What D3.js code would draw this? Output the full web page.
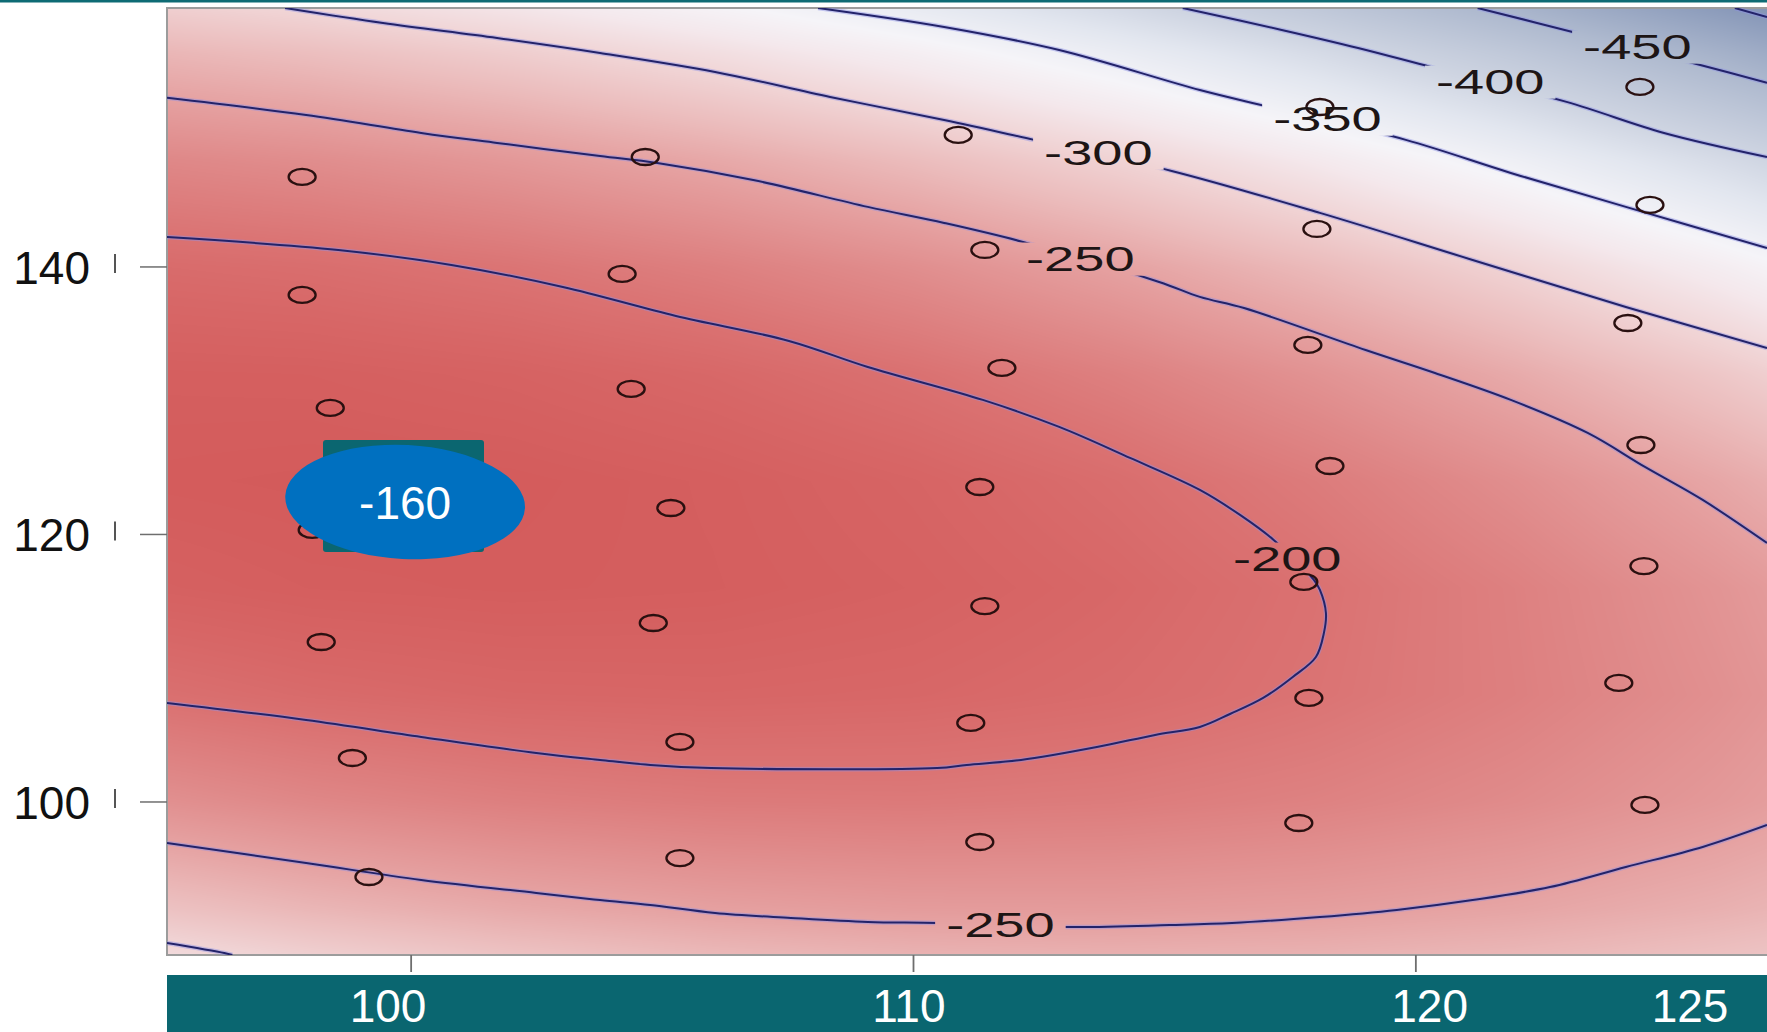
<!DOCTYPE html>
<html>
<head>
<meta charset="utf-8">
<script src="https://cdn.jsdelivr.net/npm/d3@7"></script>
<style>
  html, body { margin: 0; padding: 0; background: #ffffff; }
  svg { display: block; }
</style>
</head>
<body>
<svg id="chart" width="1767" height="1032"></svg>
<script>
// ---------------- DATA ----------------
// axis domains
const xDomain = [95.14, 126.99];
const yDomain = [88.56, 159.36];
const xTicks = [100, 110, 120];
const bandTicks = [100, 110, 120, 125];
const yTicks = [100, 120, 140];

// estimated response surface on a coarse grid (rows follow gridY, columns follow gridX)
const gridX = [94, 98, 102, 106, 110, 114, 118, 122, 126, 130];
const gridY = [84, 92, 100, 108, 116, 124, 132, 140, 148, 156, 164];
const gridZ = [
  [-349.7, -330.3, -314.8, -303.0, -295.0, -290.9, -290.4, -293.8, -300.9, -311.9],
  [-286.4, -270.5, -258.3, -250.0, -245.4, -244.6, -247.5, -254.3, -264.8, -279.2],
  [-236.8, -224.3, -215.5, -210.5, -209.3, -211.9, -218.3, -228.4, -242.3, -260.0],
  [-200.6, -191.4, -186.0, -184.4, -186.6, -192.6, -202.4, -215.9, -233.2, -254.3],
  [-177.9, -172.2, -170.2, -172.0, -177.6, -186.9, -200.1, -217.0, -237.7, -262.2],
  [-168.8, -166.4, -167.8, -173.0, -182.0, -194.8, -211.3, -231.6, -255.8, -283.6],
  [-173.1, -174.2, -179.0, -187.5, -199.9, -216.1, -236.0, -259.7, -287.2, -318.5],
  [-191.1, -195.5, -203.7, -215.7, -231.4, -251.0, -274.3, -301.4, -332.3, -367.0],
  [-222.5, -230.3, -241.8, -257.2, -276.4, -299.3, -326.0, -356.5, -390.8, -428.9],
  [-267.4, -278.6, -293.6, -312.4, -334.9, -361.2, -391.3, -425.2, -462.9, -504.4],
  [-325.9, -340.5, -358.8, -381.0, -406.9, -436.7, -470.2, -507.4, -548.5, -593.3]
];

// colour ramp of the surface
const zStops = [-165, -185, -200, -225, -250, -275, -300, -325, -345, -375, -400, -450, -500, -550];
const colorStops = ["#d35a5a", "#d76666", "#da7171", "#df8888", "#e5a0a0", "#ebbbbb", "#f0d3d4",
                    "#f4e8ec", "#f5f4f8", "#e2e6ef", "#cfd5e2", "#afbacf", "#8a9aba", "#697ea3"];

// design points
const designX = [97.83, 104.66, 110.89, 118.09, 124.46,
                 97.83, 104.20, 111.42, 118.03, 124.66,
                 98.39, 104.38, 111.76, 117.85, 124.22,
                 98.03, 105.17, 111.32, 118.29, 124.48,
                 98.21, 104.82, 111.42, 117.77, 124.54,
                 98.83, 105.35, 111.14, 117.87, 124.04,
                 99.16, 105.35, 111.32, 117.67, 124.56];
const designY = [146.73, 148.22, 149.87, 151.96, 153.46,
                 137.91, 139.48, 141.27, 142.84, 144.64,
                 129.46, 130.88, 132.45, 134.17, 135.81,
                 120.34, 121.98, 123.55, 125.12, 126.69,
                 111.96, 113.38, 114.65, 116.45, 117.64,
                 103.29, 104.49, 105.91, 107.78, 108.90,
                 94.39, 95.81, 97.01, 98.43, 99.78];

// contour lines ([x, y] in data units)
const line200 = [[95.14,142.24],[98.55,141.27],[100.80,140.15],[103.02,138.50],[105.27,136.34],[107.52,134.47],
  [109.09,132.52],[111.38,130.06],[112.90,128.04],[114.31,125.72],[115.70,123.33],[116.50,121.46],[117.17,119.59],
  [117.97,116.60],[118.09,115.85],[118.21,114.13],[118.17,112.64],[118.01,110.84],[117.55,109.35],[116.96,107.78],
  [116.30,106.58],[115.70,105.61],[114.81,105.01],[113.65,104.11],[112.14,103.14],[111.06,102.77],[110.47,102.54],
  [105.97,102.54],[104.76,102.77],[103.76,103.14],[102.49,103.66],[100.20,104.86],[97.91,106.13],[95.14,107.40]];
const line250a = [[95.14,152.65],[97.91,151.36],[100.20,150.02],[101.71,149.27],[103.76,148.30],[104.90,147.78],
  [106.81,146.50],[109.09,144.49],[110.61,143.29],[112.18,141.87],[114.89,138.88],[115.70,137.76],[116.58,136.93],
  [119.00,133.79],[120.38,132.07],[121.89,130.06],[123.42,127.59],[124.56,125.05],[125.71,122.58],[126.99,119.36]];
const line250b = [[95.14,96.93],[97.91,95.44],[100.20,94.17],[102.49,93.20],[103.76,92.67],[104.76,92.30],
  [106.05,91.70],[107.56,91.33],[109.09,91.03],[110.47,90.95],[113.17,90.65],[115.10,90.80],[116.34,90.95],
  [118.09,91.40],[119.62,91.93],[121.13,92.67],[122.67,93.64],[124.18,95.14],[125.71,96.64],[126.99,98.28]];
const line300a = [[97.49,159.36],[99.44,158.24],[101.71,157.12],[103.76,156.00],[106.05,154.58],[108.34,152.71],
  [110.61,150.99],[112.40,149.50],[115.14,147.18],[118.09,144.04],[121.13,140.52],[124.18,137.01],[126.99,133.94]];
const line300b = [[95.14,89.46],[96.28,88.71],[96.44,88.56]];
const line350 = [[108.10,159.36],[110.61,157.94],[112.90,156.22],[115.70,153.23],[117.09,151.96],[119.80,149.50],
  [121.89,147.03],[124.18,144.49],[126.99,141.42]];
const line400 = [[115.36,159.36],[117.33,157.72],[118.85,156.37],[120.30,154.95],[123.00,152.34],[124.94,150.02],[126.99,148.22]];
const line450 = [[121.23,159.36],[123.12,157.57],[125.89,154.88],[126.99,153.76]];
const line500 = [[126.35,159.36],[126.99,158.69]];

// contour labels
const labelText = ["-450", "-400", "-350", "-300", "-250", "-200", "-250"];
const labelX = [124.41, 121.48, 118.24, 113.68, 113.32, 117.44, 111.73];
const labelY = [156.49, 153.87, 151.10, 148.56, 140.64, 118.21, 90.84];

// highlighted callout
const calloutText = "-160";
const calloutX = 99.88;
const calloutY = 122.43;

// ---------------- DRAWING ----------------
const svg = d3.select("#chart");
const W = 1767, H = 1032;
const plot = { left: 167, top: 8, right: 1767, bottom: 955 };
const font = "'Liberation Sans', Arial, Helvetica, sans-serif";

const x = d3.scaleLinear().domain(xDomain).range([plot.left, plot.right]);
const y = d3.scaleLinear().domain(yDomain).range([plot.bottom, plot.top]);
const xBand = d3.scaleLinear().domain([100, 125]).range([388, 1690]);
const color = d3.scaleLinear().domain(zStops).range(colorStops)
  .interpolate(d3.interpolateRgb).clamp(true);

// top teal rule
svg.append("rect").attr("x", 0).attr("y", 0).attr("width", W).attr("height", 2.5).attr("fill", "#0e6b74");

// ---- raster surface
const pw = plot.right - plot.left, ph = plot.bottom - plot.top;
const canvas = document.createElement("canvas");
canvas.width = pw; canvas.height = ph;
const ctx = canvas.getContext("2d");
const img = ctx.createImageData(pw, ph);
const gx0 = gridX[0], gdx = gridX[1] - gridX[0];
const gy0 = gridY[0], gdy = gridY[1] - gridY[0];
const nX = gridX.length, nY = gridY.length;
function surface(xv, yv) {
  const fi = (xv - gx0) / gdx, fj = (yv - gy0) / gdy;
  const i = Math.max(0, Math.min(nX - 2, Math.floor(fi)));
  const j = Math.max(0, Math.min(nY - 2, Math.floor(fj)));
  const tx = fi - i, ty = fj - j;
  return (1 - tx) * (1 - ty) * gridZ[j][i] + tx * (1 - ty) * gridZ[j][i + 1] +
         (1 - tx) * ty * gridZ[j + 1][i] + tx * ty * gridZ[j + 1][i + 1];
}
const lutMin = -620, lutMax = -140, lutStep = 0.25;
const lutN = Math.round((lutMax - lutMin) / lutStep) + 1;
const lut = new Uint8Array(lutN * 3);
for (let k = 0; k < lutN; k++) {
  const c = d3.rgb(color(lutMin + k * lutStep));
  lut[k * 3] = c.r; lut[k * 3 + 1] = c.g; lut[k * 3 + 2] = c.b;
}
for (let py = 0; py < ph; py++) {
  const yv = y.invert(plot.top + py + 0.5);
  for (let px = 0; px < pw; px++) {
    const xv = x.invert(plot.left + px + 0.5);
    const z = surface(xv, yv);
    let k = Math.round((z - lutMin) / lutStep);
    k = Math.max(0, Math.min(lutN - 1, k));
    const o = (py * pw + px) * 4;
    img.data[o] = lut[k * 3]; img.data[o + 1] = lut[k * 3 + 1]; img.data[o + 2] = lut[k * 3 + 2]; img.data[o + 3] = 255;
  }
}
ctx.putImageData(img, 0, 0);
svg.append("image")
  .attr("x", plot.left).attr("y", plot.top)
  .attr("width", pw).attr("height", ph)
  .attr("preserveAspectRatio", "none")
  .attr("href", canvas.toDataURL());

const defs = svg.append("defs");
defs.append("clipPath").attr("id", "plotClip")
  .append("rect").attr("x", plot.left).attr("y", plot.top).attr("width", pw).attr("height", ph);

// plot frame
svg.append("path")
  .attr("d", `M${plot.right},${plot.top}H${plot.left}V${plot.bottom}H${plot.right}`)
  .attr("fill", "none").attr("stroke", "#9c9c9c").attr("stroke-width", 2);

// ---- contour labels
const labelsG = svg.append("g").attr("font-family", font).attr("font-size", 35).attr("fill", "#1d1515");
labelsG.selectAll("text").data(labelText).join("text")
  .attr("transform", (d, i) => `translate(${x(labelX[i])},${y(labelY[i])}) scale(1.55,1)`)
  .attr("text-anchor", "middle")
  .attr("dy", "0.36em")
  .text(d => d);

// mask removing lines under the labels
const mask = defs.append("mask").attr("id", "labelMask")
  .attr("maskUnits", "userSpaceOnUse").attr("x", 0).attr("y", 0).attr("width", W).attr("height", H);
mask.append("rect").attr("x", 0).attr("y", 0).attr("width", W).attr("height", H).attr("fill", "#fff");
labelsG.selectAll("text").each(function () {
  const b = this.getBoundingClientRect();
  const s = svg.node().getBoundingClientRect();
  mask.append("rect")
    .attr("x", b.left - s.left - 11).attr("y", b.top - s.top + 3)
    .attr("width", b.width + 22).attr("height", b.height - 6)
    .attr("fill", "#000");
});

// ---- contour lines
const contourLines = [line200, line250a, line250b, line300a, line300b, line350, line400, line450, line500];
const lineGen = d3.line().x(d => x(d[0])).y(d => y(d[1])).curve(d3.curveCatmullRom.alpha(0.5));
const linesG = svg.insert("g", () => labelsG.node())
  .attr("clip-path", "url(#plotClip)")
  .attr("mask", "url(#labelMask)");
linesG.selectAll("path.halo").data(contourLines).join("path")
  .attr("class", "halo")
  .attr("d", lineGen).attr("fill", "none")
  .attr("stroke", "#8c90e6").attr("stroke-opacity", 0.45).attr("stroke-width", 4.5);
linesG.selectAll("path.core").data(contourLines).join("path")
  .attr("class", "core")
  .attr("d", lineGen).attr("fill", "none")
  .attr("stroke", "#23236a").attr("stroke-width", 2);

// ---- design points
const designIdx = d3.range(designX.length);
svg.insert("g", () => labelsG.node())
  .attr("clip-path", "url(#plotClip)")
  .selectAll("ellipse").data(designIdx).join("ellipse")
  .attr("cx", i => x(designX[i])).attr("cy", i => y(designY[i]))
  .attr("rx", 13.5).attr("ry", 8)
  .attr("fill", "none").attr("stroke", "#2a1010").attr("stroke-width", 2.3);

// ---- y axis
const yAxisG = svg.append("g").attr("font-family", font);
yTicks.forEach(t => {
  const ty = y(t);
  yAxisG.append("line").attr("x1", 140).attr("x2", plot.left).attr("y1", ty).attr("y2", ty)
    .attr("stroke", "#6e6e6e").attr("stroke-width", 1.5);
  yAxisG.append("line").attr("x1", 115).attr("x2", 115).attr("y1", ty - 13).attr("y2", ty + 6)
    .attr("stroke", "#555").attr("stroke-width", 2);
  yAxisG.append("text").attr("x", 90).attr("y", ty).attr("dy", "0.36em")
    .attr("text-anchor", "end").attr("font-size", 46).attr("fill", "#111")
    .text(t);
});

// ---- x axis ticks
const xAxisG = svg.append("g");
xTicks.forEach(t => {
  xAxisG.append("line").attr("x1", x(t)).attr("x2", x(t)).attr("y1", plot.bottom).attr("y2", plot.bottom + 17)
    .attr("stroke", "#6e6e6e").attr("stroke-width", 1.8);
});

// ---- teal band with labels
svg.append("rect").attr("x", plot.left).attr("y", 975).attr("width", W - plot.left).attr("height", H - 975)
  .attr("fill", "#0a6670");
svg.append("g").attr("font-family", font).attr("font-size", 46).attr("fill", "#ffffff")
  .selectAll("text").data(bandTicks).join("text")
  .attr("x", d => xBand(d)).attr("y", 1022)
  .attr("text-anchor", "middle")
  .text(d => d);

// ---- callout
const cg = svg.append("g");
cg.append("rect").attr("x", 323).attr("y", 440).attr("width", 161).attr("height", 112).attr("rx", 3)
  .attr("fill", "#0b6670");
cg.append("ellipse")
  .attr("transform", `translate(${x(calloutX)},${y(calloutY)}) rotate(3)`)
  .attr("rx", 120).attr("ry", 57)
  .attr("fill", "#0070c0");
cg.append("text")
  .attr("x", x(calloutX)).attr("y", y(calloutY)).attr("dy", "0.38em")
  .attr("text-anchor", "middle")
  .attr("font-family", font).attr("font-size", 46).attr("fill", "#ffffff")
  .text(calloutText);
</script>
</body>
</html>
